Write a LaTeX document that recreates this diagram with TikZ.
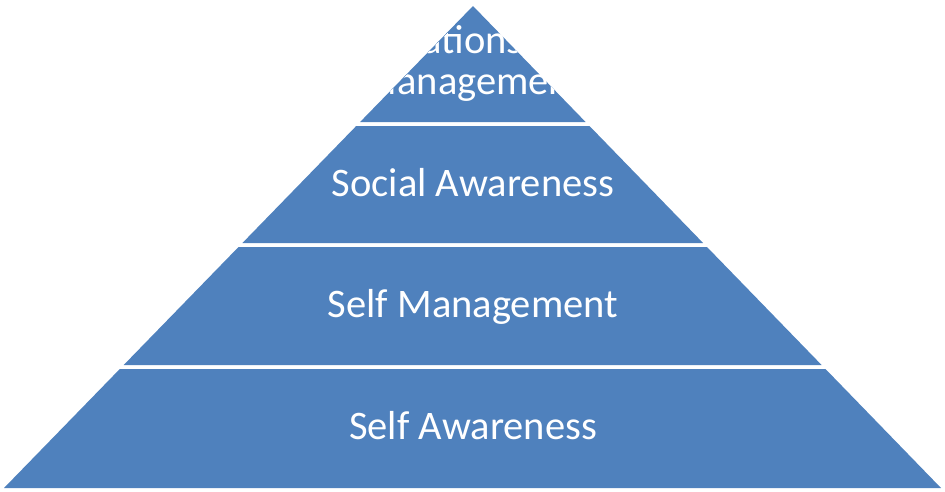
\documentclass[tikz,border=0pt]{standalone}
\usepackage{fontspec}
\setmainfont{Carlito}
\definecolor{pyr}{HTML}{4F81BD}
\begin{document}
\begin{tikzpicture}[x=1pt,y=-1pt,
  band/.style={fill=pyr,draw=none},
  lbl/.style={text=white,font=\fontsize{40.5}{45}\selectfont,inner sep=0pt,anchor=base}]
\useasboundingbox (0,0) rectangle (945,491);
% bands
\path[band] (473,6) -- (585.6,122) -- (360.1,122) -- cycle;
\path[band] (356.2,126) -- (589.5,126) -- (703.1,243) -- (242.4,243) -- cycle;
\path[band] (238.5,247) -- (707.0,247) -- (821.6,365) -- (123.7,365) -- cycle;
\path[band] (119.8,369) -- (825.5,369) -- (941.0,488) -- (4.0,488) -- cycle;
% top label, visible only on the blue apex
\begin{scope}
  \clip (473,6) -- (585.6,122) -- (360.1,122) -- cycle;
  \node[lbl] (rel) at (473,53) {Relationship};
  \node[lbl] (mgmt) at (473,94) {Management};
\end{scope}
\node[lbl] (social) at (473,196) {Social Awareness};
\node[lbl] (selfm) at (473,317) {Self Management};
\node[lbl] (selfa) at (473,439) {Self Awareness};
\end{tikzpicture}
\end{document}
